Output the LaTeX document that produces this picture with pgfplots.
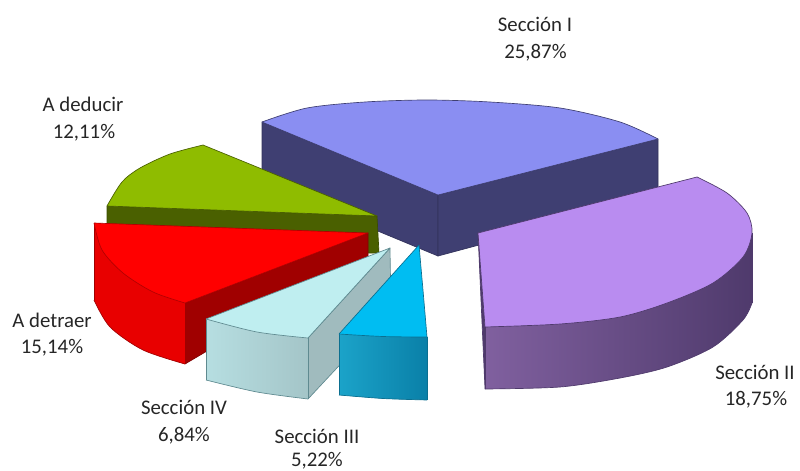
\documentclass[border=0pt]{standalone}
\usepackage{fontspec}
\setmainfont{Carlito}
\usepackage{pgfplots}
\pgfplotsset{compat=1.18}
\definecolor{bluetop}{HTML}{8A8EF2}
\definecolor{bluewall}{HTML}{3F3F72}
\definecolor{purptop}{HTML}{B98CF0}
\definecolor{purpedge}{HTML}{4F3A6C}
\definecolor{purpleft}{HTML}{80609F}
\definecolor{grntop}{HTML}{8FBC00}
\definecolor{grnwall}{HTML}{4A6000}
\definecolor{redinner}{HTML}{A00000}
\definecolor{redouter}{HTML}{E80000}
\definecolor{lbtop}{HTML}{BFEEF0}
\definecolor{lbl}{HTML}{B6DEE1}
\definecolor{lbr}{HTML}{A4C5C8}
\definecolor{lbside}{HTML}{A0BBBE}
\definecolor{lbedge}{HTML}{5F8A90}
\definecolor{cytop}{HTML}{00BDF2}
\definecolor{cyl}{HTML}{1BA3C9}
\definecolor{cyr}{HTML}{0A80A8}
\definecolor{cyedge}{HTML}{0B6F90}
\tikzset{lab/.style={font=\fontsize{15.6pt}{18pt}\selectfont, anchor=base, inner sep=0pt, text=black!85}}
\begin{document}
\begin{tikzpicture}
\begin{axis}[
  scale only axis, width=600pt, height=353.25pt,
  xmin=0, xmax=800, ymin=0, ymax=471, y dir=reverse,
  axis lines=none, clip=false,
  every axis plot/.append style={line join=round, line width=0.5pt},
]
\path[use as bounding box] (axis cs:0,0) rectangle (axis cs:800,471);
% Seccion I
\addplot[fill=bluewall, draw=bluewall!80!black] coordinates {(262,122)(438,195)(438,256)(262,183)} -- cycle;
\addplot[fill=bluewall, draw=bluewall!80!black] coordinates {(438,195)(658,139)(658,197)(438,256)} -- cycle;
\addplot[fill=bluetop, draw=none] coordinates {(262,122)(427,100)(658,139)(438,195)} -- cycle;
\addplot[smooth, fill=bluetop, draw=bluewall] coordinates {(262,122)(307,108)(365,102)(427,100)(490,102)(560,108)(620,122)(658,139)};
\addplot[draw=bluewall] coordinates {(262,122)(438,195)(658,139)};
% A deducir
\addplot[fill=grnwall, draw=grnwall!80!black] coordinates {(107,206)(377,216)(379,253)(107,253)} -- cycle;
\addplot[fill=grntop, draw=none] coordinates {(203,145)(140,168)(107,206)(377,216)} -- cycle;
\addplot[smooth, fill=grntop, draw=grnwall] coordinates {(203,145)(170,154)(140,168)(122,182)(107,206)};
\addplot[draw=grnwall] coordinates {(107,206)(377,216)(203,145)};
% A detraer
\addplot[fill=redinner, draw=redinner!80!black] coordinates {(185,303)(368,233)(368,256)(185,364)} -- cycle;
\addplot[fill=redouter, draw=none] coordinates {(94,223)(185,303)(185,364)(143,350)(94,300)} -- cycle;
\addplot[smooth, fill=redouter, draw=redinner] coordinates {(94,300)(110,327)(143,350)(185,364)};
\addplot[draw=redinner] coordinates {(94,300)(94,223)};
\addplot[draw=redinner] coordinates {(185,303)(185,364)};
\addplot[fill=red, draw=none] coordinates {(94,223)(368,233)(185,303)(123,273)} -- cycle;
\addplot[smooth, fill=red, draw=red!70!black] coordinates {(94,223)(102,250)(123,273)(153,292)(185,303)};
\addplot[draw=red!70!black] coordinates {(185,303)(368,233)(94,223)};
% Seccion IV
\addplot[fill=lbside, draw=lbedge] coordinates {(390,248)(391,310)(308,399)(308,338)} -- cycle;
\addplot[left color=lbl, middle color=lbl!60!lbr, right color=lbr, draw=none] coordinates {(206,319)(308,338)(308,399)(257,392)(206,380)} -- cycle;
\addplot[smooth, left color=lbl, middle color=lbl!60!lbr, right color=lbr, draw=lbedge] coordinates {(206,380)(257,392)(308,399)};
\addplot[draw=lbedge] coordinates {(206,380)(206,319)};
\addplot[draw=lbedge] coordinates {(308,338)(308,399)};
\addplot[fill=lbtop, draw=none] coordinates {(206,319)(257,332)(308,338)(390,248)} -- cycle;
\addplot[smooth, fill=lbtop, draw=lbedge] coordinates {(206,319)(257,332)(308,338)};
\addplot[draw=lbedge] coordinates {(206,319)(390,248)(308,338)};
% Seccion III
\addplot[left color=cyl, middle color=cyl!50!cyr, right color=cyr, draw=none] coordinates {(339,334)(427,337)(427,400)(383,398.5)(339,395)} -- cycle;
\addplot[smooth, left color=cyl, middle color=cyl!50!cyr, right color=cyr, draw=cyedge] coordinates {(339,395)(383,398.5)(427,400)};
\addplot[draw=cyedge] coordinates {(339,395)(339,334)};
\addplot[draw=cyedge] coordinates {(427,337)(427,400)};
\addplot[fill=cytop, draw=none] coordinates {(419,245)(427,337)(383,336.5)(339,334)} -- cycle;
\addplot[smooth, fill=cytop, draw=cyedge] coordinates {(339,334)(383,336.5)(427,337)};
\addplot[draw=cyedge] coordinates {(339,334)(419,245)(423,290)(427,337)};
% Seccion II
\addplot[fill=purpedge, draw=purpedge] coordinates {(478,233)(485,327)(485,389)} -- cycle;
\addplot[left color=purpleft, middle color=purpedge, right color=purpedge, draw=none] coordinates {(485,327)(752,233)(752,303)(620,378)(485,389)} -- cycle;
\addplot[smooth, left color=purpleft, middle color=purpedge, right color=purpedge, draw=purpedge] coordinates {(485,389)(560,387)(620,378)(667,367)(713,347)(743,320)(752,303)};
\addplot[draw=purpedge] coordinates {(752,233)(752,303)};
\addplot[draw=purpedge] coordinates {(485,327)(485,389)};
\addplot[fill=purptop, draw=none] coordinates {(478,233)(697,177)(752,233)(667,303)(485,327)} -- cycle;
\addplot[smooth, fill=purptop, draw=purpedge] coordinates {(697,177)(727,193)(747,213)(752,233)(743,257)(713,283)(667,303)(620,317)(560,324)(485,327)};
\addplot[draw=purpedge] coordinates {(485,327)(478,233)(697,177)};
% Labels
\node[lab] at (axis cs:535,31.5) {Sección I};
\node[lab] at (axis cs:535.5,58.5) {25,87\%};
\node[lab] at (axis cs:83,111.5) {A deducir};
\node[lab] at (axis cs:84,138.5) {12,11\%};
\node[lab] at (axis cs:52,327.5) {A detraer};
\node[lab] at (axis cs:52,353.5) {15,14\%};
\node[lab] at (axis cs:184,414.5) {Sección IV};
\node[lab] at (axis cs:184,441.5) {6,84\%};
\node[lab] at (axis cs:317,443) {Sección III};
\node[lab] at (axis cs:317,466.5) {5,22\%};
\node[lab] at (axis cs:755,379.5) {Sección II};
\node[lab] at (axis cs:756,405.5) {18,75\%};
\end{axis}
\end{tikzpicture}
\end{document}
